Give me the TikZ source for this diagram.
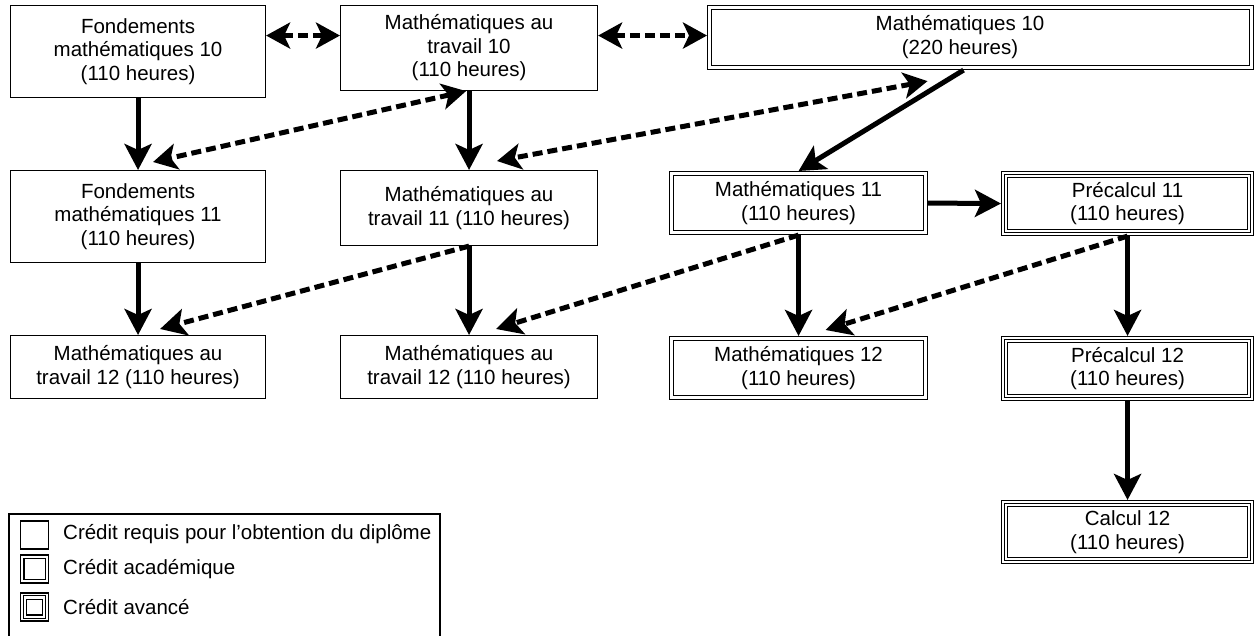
\documentclass[tikz,border=0pt]{standalone}
\usepackage{fontspec}
\setmainfont{Liberation Sans}
\usetikzlibrary{arrows.meta}
\newcommand\insetbox[2]{\draw[line width=1.1pt] ([shift={(#2pt,-#2pt)}]#1.north west) rectangle ([shift={(-#2pt,#2pt)}]#1.south east);}
\begin{document}
\begin{tikzpicture}[x=1pt,y=1pt,
  box/.style={draw, line width=1.1pt, inner sep=0pt, align=center, anchor=north west,
    font=\fontsize{20.5}{23.5}\selectfont},
  lbl/.style={inner sep=0pt, align=center, font=\fontsize{20.5}{23.5}\selectfont},
  arr/.style={line width=5pt, -{Stealth[length=26pt,width=27pt,inset=6pt]}},
  darr/.style={line width=5pt, dash pattern=on 10pt off 5pt, -{Stealth[length=26pt,width=27pt,inset=6pt]}},
  ddarr/.style={line width=5pt, dash pattern=on 10pt off 5pt, {Stealth[length=24pt,width=26pt,inset=6pt]}-{Stealth[length=24pt,width=26pt,inset=6pt]}},
  legtext/.style={anchor=west, inner sep=0pt, font=\fontsize{20.5}{23.5}\selectfont},
  legbox/.style={draw, line width=1.1pt, minimum width=28pt, minimum height=28pt, inner sep=0pt}
]
\useasboundingbox (0,0) rectangle (1255,-636);

% row 1
\node[box, minimum width=255pt, minimum height=92pt] (f10) at (10,-5) {Fondements\\mathématiques 10\\(110 heures)};
\node[box, minimum width=257pt, minimum height=85pt] (mt10) at (340,-5) {Mathématiques au\\travail 10\\(110 heures)};
\node[box, minimum width=546pt, minimum height=64pt] (m10) at (707,-5) {};
\insetbox{m10}{4.5}
\node[lbl] (m10t) at (960,-37) {Mathématiques 10\\(220 heures)};

% row 2
\node[box, minimum width=255pt, minimum height=92pt] (f11) at (10,-170) {Fondements\\mathématiques 11\\(110 heures)};
\node[box, minimum width=257pt, minimum height=75pt] (mt11) at (340,-170) {Mathématiques au\\travail 11 (110 heures)};
\node[box, minimum width=258pt, minimum height=63pt] (m11) at (669,-171) {Mathématiques 11\\(110 heures)};
\insetbox{m11}{4.5}
\node[box, minimum width=252pt, minimum height=64pt] (p11) at (1001,-171) {Précalcul 11\\(110 heures)};
\insetbox{p11}{3.3}
\insetbox{p11}{6.8}

% row 3
\node[box, minimum width=255pt, minimum height=63pt] (mt12a) at (10,-335) {Mathématiques au\\travail 12 (110 heures)};
\node[box, minimum width=257pt, minimum height=63pt] (mt12b) at (340,-335) {Mathématiques au\\travail 12 (110 heures)};
\node[box, minimum width=258pt, minimum height=63pt] (m12) at (669,-336) {Mathématiques 12\\(110 heures)};
\insetbox{m12}{4.5}
\node[box, minimum width=252pt, minimum height=64pt] (p12) at (1001,-336) {Précalcul 12\\(110 heures)};
\insetbox{p12}{3.3}
\insetbox{p12}{6.8}

% row 4
\node[box, minimum width=252pt, minimum height=63pt] (c12) at (1001,-500) {Calcul 12\\(110 heures)};
\insetbox{c12}{3.3}
\insetbox{c12}{6.8}

% connectors
\draw[ddarr] ([yshift=16pt]f10.east) -- ([yshift=12.5pt]mt10.west);
\draw[ddarr] ([yshift=12.5pt]mt10.east) -- ([yshift=2pt]m10.west);
\draw[arr] (f10.south) -- (f11.north);
\draw[ddarr] ([xshift=-3pt]mt10.south) -- ([xshift=15pt,yshift=8pt]f11.north);
\draw[arr] (mt10.south) -- (mt11.north);
\draw[ddarr] ([xshift=-53pt,yshift=-11pt]m10.south) -- ([xshift=28pt,yshift=9pt]mt11.north);
\draw[arr] ([xshift=-17pt]m10.south) -- (m11.north);
\draw[arr] (m11.east) -- (p11.west);
\draw[arr] (f11.south) -- (mt12a.north);
\draw[darr] (mt11.south) -- ([xshift=22pt,yshift=6pt]mt12a.north);
\draw[arr] (mt11.south) -- (mt12b.north);
\draw[darr] (m11.south) -- ([xshift=27pt,yshift=6pt]mt12b.north);
\draw[arr] (m11.south) -- (m12.north);
\draw[darr] (p11.south) -- ([xshift=27pt,yshift=6pt]m12.north);
\draw[arr] (p11.south) -- (p12.north);
\draw[arr] (p12.south) -- (c12.north);

% legend
\draw[line width=1.1pt] (9,-640) -- (9,-514) -- (440,-514) -- (440,-640);
\node[legbox] (l1) at (34.5,-535) {};
\node[legbox] (l2) at (34.5,-569) {};
\insetbox{l2}{4}
\node[legbox] (l3) at (34.5,-607) {};
\insetbox{l3}{3.3}
\insetbox{l3}{6.6}
\node[legtext] (t1) at (63,-534) {Crédit requis pour l’obtention du diplôme};
\node[legtext] (t2) at (63,-569) {Crédit académique};
\node[legtext] (t3) at (63,-607) {Crédit avancé};
\end{tikzpicture}
\end{document}
